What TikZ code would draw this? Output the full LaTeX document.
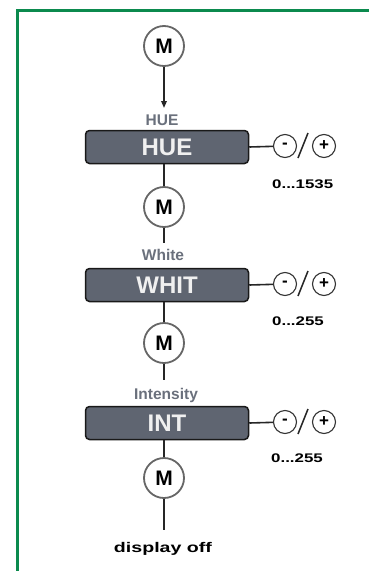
\documentclass[tikz,border=0pt]{standalone}
\usepackage{graphicx}
\usepackage{fontspec}
\setmainfont{Liberation Sans}
\usetikzlibrary{arrows.meta}
\definecolor{framegreen}{HTML}{0B8A4E}
\definecolor{boxfill}{HTML}{5F6571}
\definecolor{lblgray}{HTML}{6A707C}
\begin{document}
\begin{tikzpicture}[x=1pt,y=-1pt,
  mcirc/.style={circle,draw=black!60,line width=1.8pt,fill=white,minimum size=40pt,inner sep=0pt,font=\fontsize{21}{21}\selectfont\bfseries},
  menubox/.style={rounded corners=4pt,draw=black!90,line width=1.5pt,fill=boxfill,minimum width=163pt,minimum height=33pt,inner sep=0pt,text=white!94!black,font=\fontsize{24}{24}\selectfont\bfseries},
  pm/.style={circle,draw=black!80,line width=1.1pt,fill=white,minimum size=23pt,inner sep=0pt,font=\fontsize{17}{17}\selectfont\bfseries},
  conn/.style={line width=1.6pt,draw=black!85},
  slash/.style={line width=1.5pt,draw=black!85},
  lab/.style={text=lblgray,font=\fontsize{15.5}{15.5}\selectfont\bfseries,anchor=base,inner sep=0pt},
  rng/.style={anchor=base west,inner sep=0pt,font=\fontsize{12.5}{12.5}\selectfont\bfseries},
]
\useasboundingbox (0,0) rectangle (369,571);
\draw[framegreen,line width=3pt] (17.5,571) -- (17.5,10) -- (369,10);

% column
\node[mcirc] (m1) at (164,46) {M};
\coordinate (a1) at (164,108);
\node[lab] (huel) at (162,125) {HUE};
\node[menubox] (hue) at (167,147) {HUE};
\node[mcirc] (m2) at (164,207) {M};
\coordinate (e2) at (164,243);
\node[lab] (whil) at (163,260) {White};
\node[menubox] (whit) at (167,285) {WHIT};
\node[mcirc] (m3) at (164,343) {M};
\coordinate (e3) at (164,380);
\node[lab] (intl) at (166,399) {Intensity};
\node[menubox] (int) at (167,423) {INT};
\node[mcirc] (m4) at (164,478) {M};
\coordinate (e4) at (164,530);
\node[anchor=base,inner sep=0pt,font=\fontsize{14}{14}\selectfont\bfseries] (off) at (163,552) {\scalebox{1.4}[1]{display off}};

\draw[conn,-{Triangle[length=7pt,width=5.5pt]}] (m1) -- (a1);
\draw[conn] (m2 |- hue.south) -- (m2);
\draw[conn] (m2) -- (e2);
\draw[conn] (m3 |- whit.south) -- (m3);
\draw[conn] (m3) -- (e3);
\draw[conn] (m4 |- int.south) -- (m4);
\draw[conn] (m4) -- (e4);

% right side controls: HUE
\node[pm] (hue-minus) at (285,146) {-};
\node[pm] (hue-plus) at (324,146) {+};
\coordinate (hue-s1) at (298,158);
\coordinate (hue-s2) at (308,133);
\draw[conn] (hue.east) -- (hue-minus);
\draw[slash] (hue-s1) -- (hue-s2);
\node[rng] (hue-range) at (272,188) {\scalebox{1.35}[1]{0...1535}};

% WHIT
\node[pm] (whit-minus) at (285,284) {-};
\node[pm] (whit-plus) at (324,284) {+};
\coordinate (whit-s1) at (298,296);
\coordinate (whit-s2) at (308,271);
\draw[conn] (whit.east) -- (whit-minus);
\draw[slash] (whit-s1) -- (whit-s2);
\node[rng] (whit-range) at (272,325) {\scalebox{1.35}[1]{0...255}};

% INT
\node[pm] (int-minus) at (285,422) {-};
\node[pm] (int-plus) at (324,422) {+};
\coordinate (int-s1) at (298,434);
\coordinate (int-s2) at (308,409);
\draw[conn] (int.east) -- (int-minus);
\draw[slash] (int-s1) -- (int-s2);
\node[rng] (int-range) at (271,462) {\scalebox{1.35}[1]{0...255}};
\end{tikzpicture}
\end{document}
